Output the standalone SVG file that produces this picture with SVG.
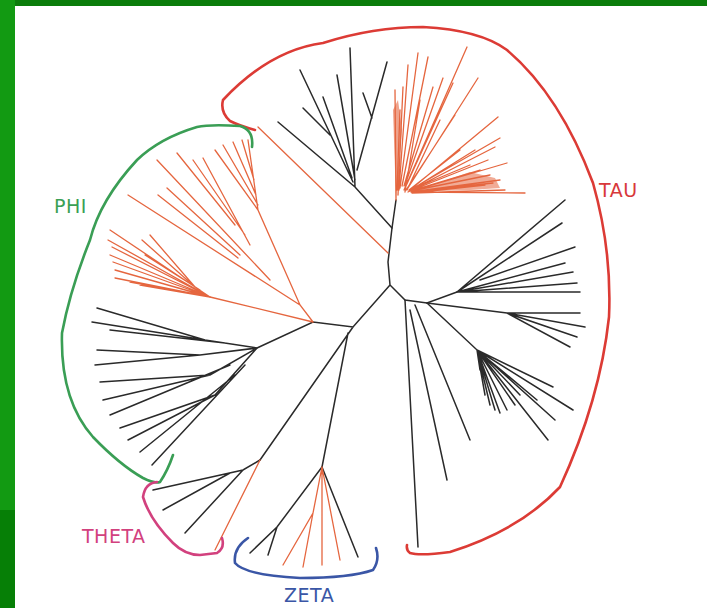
<svg xmlns="http://www.w3.org/2000/svg" width="707" height="608" viewBox="0 0 707 608">
<style>
.k{stroke:#2a2a2a;stroke-width:1.5;fill:none;stroke-linecap:round}
.r{stroke:#e5663f;stroke-width:1.3;fill:none;stroke-linecap:round}
.br{fill:none;stroke-width:2.6;stroke-linecap:round}
.lab{font-family:"DejaVu Sans",sans-serif;font-size:19px;letter-spacing:0.5px}
</style>
<rect x="0" y="0" width="707" height="608" fill="#ffffff"/>
<rect x="0" y="0" width="707" height="6" fill="#0b7d0b"/>
<rect x="0" y="0" width="15" height="510" fill="#129a12"/>
<rect x="0" y="510" width="15" height="98" fill="#067f06"/>

<g id="tree">
<path class="k" d="M396,200 L392,228 L388,262 L390,285 L405,300 L427,303 L457,292 M390,285 L353,327 L313,322 L257,348 M353,327 L260,460 M348,333 L322,467"/>
<path class="k" d="M392,228 L355,187 L278,122 M355,187 L350,48 M353,182 L300,70 M330,135 L303,108 M352,178 L323,97 M355,180 L337,75 M357,170 L387,62 M372,118 L363,93"/>
<path class="r" d="M388,253 L258,127"/>
<g id="redfan">
<path class="r" d="M396,200 L395,90 M397,190 L400,110 M398,195 L403,87 M399,190 L408,65 M400,188 L418,53 M402,186 L428,57 M404,186 L433,87 M405,185 L443,78 M406,186 L453,83 M404,190 L467,47 M408,188 L478,78 M410,190 L498,117 M410,190 L500,138 M411,190 L495,147 M412,191 L507,163 M412,192 L493,183 M413,192 L525,193 M410,190 L470,165 M410,191 L480,170 M411,191 L490,175 M411,192 L500,180 M412,193 L485,185 M412,193 L505,190 M412,193 L470,185 M409,190 L460,150 M409,191 L475,150 M410,191 L488,160 M408,192 L450,170 M407,190 L440,120 M406,190 L455,115 M405,192 L420,100"/>
<path d="M396,200 L393,110 L398,100 L402,130 Z" fill="#e5663f" opacity="0.6"/>
<path d="M412,192 L470,172 L495,178 L500,188 L470,190 Z" fill="#e5663f" opacity="0.55"/>
</g>
<path class="r" d="M313,322 L300,305 L258,210 L248,140 M258,210 L215,150 M258,205 L223,145 M256,195 L233,142 M254,180 L242,140 M300,305 L128,195 M270,280 L157,160 M235,225 L177,153 M245,235 L193,160 M250,245 L203,158 M240,255 L167,188 M238,258 L158,195 M313,322 L210,297"/>
<path class="r" d="M210,297 L110,230 M210,297 L108,240 M210,297 L112,247 M210,297 L110,255 M210,297 L113,262 M210,297 L115,270 M210,297 L115,278 M210,297 L130,282 M210,297 L140,285 M195,287 L142,240 M195,287 L150,235 M200,290 L145,255"/>
<path class="k" d="M257,348 L205,340 L97,308 M205,340 L92,322 M225,343 L110,330 M257,348 L200,355 L97,350 M200,355 L95,365 M257,348 L210,375 L100,382 M210,375 L103,400 M230,365 L110,415 M257,348 L215,395 L120,428 M215,395 L128,440 M235,375 L140,452 M245,365 L152,465"/>
<path class="k" d="M260,460 L243,470 L153,490 M230,473 L163,510 M243,470 L185,533"/>
<path class="r" d="M260,460 L215,550"/>
<path class="k" d="M322,467 L277,527 L250,553 M277,527 L268,555 M322,467 L358,557"/>
<path class="r" d="M322,467 L313,513 L283,565 M313,513 L303,567 M322,467 L322,565 M322,467 L340,560"/>
<path class="k" d="M457,292 L565,200 M457,292 L562,223 M480,280 L575,247 M457,292 L565,263 M457,292 L573,272 M457,292 L577,283 M457,292 L580,292"/>
<path class="k" d="M427,303 L507,313 L580,313 M507,313 L585,327 M507,313 L577,337 M507,313 L570,347"/>
<path class="k" d="M427,303 L477,350 L553,387 M477,350 L573,410 M477,350 L537,400 M477,350 L555,420 M477,350 L548,440 M477,350 L480,370 M477,350 L485,395 M477,350 L490,405 M477,350 L495,410 M477,350 L500,413 M477,350 L507,410 M477,350 L515,405 M477,350 L520,395"/>
<path class="k" d="M405,300 L418,547 M410,310 L447,480 M415,305 L470,440"/>
</g>

<g id="brackets">
<path id="tau" class="br" stroke="#dc3b35" d="M255,130 Q240,126 230,121 Q220,112 223,100 Q270,50 323,43 Q373,27 423,27 Q480,30 507,50 Q560,95 593,183 Q612,250 609,317 Q600,400 560,487 Q520,530 450,552 Q420,556 410,553 Q406,550 407,545"/>
<path id="phi" class="br" stroke="#3a9e55" d="M252,147 Q254,130 240,126 Q210,124 197,127 Q160,138 137,160 Q100,200 90,240 Q70,290 62,333 Q60,400 93,437 Q120,465 143,478 Q155,484 160,482 Q168,470 173,455"/>
<path id="theta" class="br" stroke="#d2417e" d="M157,482 Q145,483 143,497 Q150,520 173,543 Q185,555 200,555 L217,553 Q225,548 222,538"/>
<path id="zeta" class="br" stroke="#3a56a6" d="M248,538 Q233,548 235,563 Q245,575 300,578 Q350,578 373,570 Q380,560 376,548"/>
</g>

<g id="labels">
<text class="lab" x="599" y="197" fill="#d8383a">TAU</text>
<text class="lab" x="54" y="213" fill="#3aa055">PHI</text>
<text class="lab" x="82" y="543" fill="#d2417e">THETA</text>
<text class="lab" x="284" y="602" fill="#3a56a6">ZETA</text>
</g>
</svg>
